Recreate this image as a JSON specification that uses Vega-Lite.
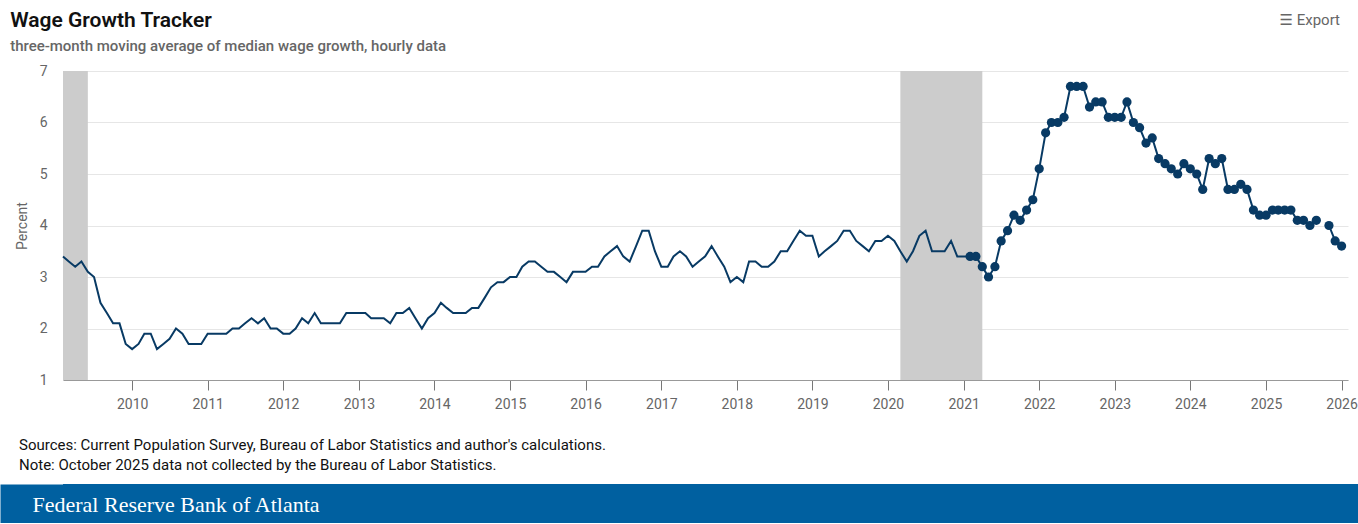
{
  "$schema": "https://vega.github.io/schema/vega-lite/v6.json",
  "background": "white",
  "padding": {"left": 10, "top": 10, "right": 0, "bottom": 0},
  "spacing": 27,
  "title": {
    "text": "Wage Growth Tracker",
    "subtitle": "three-month moving average of median wage growth, hourly data",
    "anchor": "start", "frame": "bounds", "orient": "top",
    "offset": -41, "dx": -5,
    "font": "Roboto", "fontSize": 21, "fontWeight": 600, "color": "#111111",
    "subtitleFont": "Roboto", "subtitleFontSize": 15, "subtitleFontWeight": 500,
    "subtitleColor": "#666666", "subtitlePadding": 8
  },
  "config": {"view": {"stroke": null}},
  "vconcat": [
    {
      "width": 1285,
      "height": 309,
      "title": {
        "text": "☰  Export", "anchor": "end", "frame": "group", "orient": "top",
        "offset": 36, "dx": -8, "font": "Roboto, DejaVu Sans", "fontSize": 15,
        "fontWeight": "normal", "color": "#666666"
      },
      "data": {
        "format": {"parse": {"date": "date"}},
        "values": [
          {"date": "2009-02-01", "wage": 3.4}, {"date": "2009-03-01", "wage": 3.3}, {"date": "2009-04-01", "wage": 3.2}, {"date": "2009-05-01", "wage": 3.3}, {"date": "2009-06-01", "wage": 3.1}, {"date": "2009-07-01", "wage": 3.0}, {"date": "2009-08-01", "wage": 2.5}, {"date": "2009-09-01", "wage": 2.3}, {"date": "2009-10-01", "wage": 2.1}, {"date": "2009-11-01", "wage": 2.1}, {"date": "2009-12-01", "wage": 1.7},
          {"date": "2010-01-01", "wage": 1.6}, {"date": "2010-02-01", "wage": 1.7}, {"date": "2010-03-01", "wage": 1.9}, {"date": "2010-04-01", "wage": 1.9}, {"date": "2010-05-01", "wage": 1.6}, {"date": "2010-06-01", "wage": 1.7}, {"date": "2010-07-01", "wage": 1.8}, {"date": "2010-08-01", "wage": 2.0}, {"date": "2010-09-01", "wage": 1.9}, {"date": "2010-10-01", "wage": 1.7}, {"date": "2010-11-01", "wage": 1.7}, {"date": "2010-12-01", "wage": 1.7},
          {"date": "2011-01-01", "wage": 1.9}, {"date": "2011-02-01", "wage": 1.9}, {"date": "2011-03-01", "wage": 1.9}, {"date": "2011-04-01", "wage": 1.9}, {"date": "2011-05-01", "wage": 2.0}, {"date": "2011-06-01", "wage": 2.0}, {"date": "2011-07-01", "wage": 2.1}, {"date": "2011-08-01", "wage": 2.2}, {"date": "2011-09-01", "wage": 2.1}, {"date": "2011-10-01", "wage": 2.2}, {"date": "2011-11-01", "wage": 2.0}, {"date": "2011-12-01", "wage": 2.0},
          {"date": "2012-01-01", "wage": 1.9}, {"date": "2012-02-01", "wage": 1.9}, {"date": "2012-03-01", "wage": 2.0}, {"date": "2012-04-01", "wage": 2.2}, {"date": "2012-05-01", "wage": 2.1}, {"date": "2012-06-01", "wage": 2.3}, {"date": "2012-07-01", "wage": 2.1}, {"date": "2012-08-01", "wage": 2.1}, {"date": "2012-09-01", "wage": 2.1}, {"date": "2012-10-01", "wage": 2.1}, {"date": "2012-11-01", "wage": 2.3}, {"date": "2012-12-01", "wage": 2.3},
          {"date": "2013-01-01", "wage": 2.3}, {"date": "2013-02-01", "wage": 2.3}, {"date": "2013-03-01", "wage": 2.2}, {"date": "2013-04-01", "wage": 2.2}, {"date": "2013-05-01", "wage": 2.2}, {"date": "2013-06-01", "wage": 2.1}, {"date": "2013-07-01", "wage": 2.3}, {"date": "2013-08-01", "wage": 2.3}, {"date": "2013-09-01", "wage": 2.4}, {"date": "2013-10-01", "wage": 2.2}, {"date": "2013-11-01", "wage": 2.0}, {"date": "2013-12-01", "wage": 2.2},
          {"date": "2014-01-01", "wage": 2.3}, {"date": "2014-02-01", "wage": 2.5}, {"date": "2014-03-01", "wage": 2.4}, {"date": "2014-04-01", "wage": 2.3}, {"date": "2014-05-01", "wage": 2.3}, {"date": "2014-06-01", "wage": 2.3}, {"date": "2014-07-01", "wage": 2.4}, {"date": "2014-08-01", "wage": 2.4}, {"date": "2014-09-01", "wage": 2.6}, {"date": "2014-10-01", "wage": 2.8}, {"date": "2014-11-01", "wage": 2.9}, {"date": "2014-12-01", "wage": 2.9},
          {"date": "2015-01-01", "wage": 3.0}, {"date": "2015-02-01", "wage": 3.0}, {"date": "2015-03-01", "wage": 3.2}, {"date": "2015-04-01", "wage": 3.3}, {"date": "2015-05-01", "wage": 3.3}, {"date": "2015-06-01", "wage": 3.2}, {"date": "2015-07-01", "wage": 3.1}, {"date": "2015-08-01", "wage": 3.1}, {"date": "2015-09-01", "wage": 3.0}, {"date": "2015-10-01", "wage": 2.9}, {"date": "2015-11-01", "wage": 3.1}, {"date": "2015-12-01", "wage": 3.1},
          {"date": "2016-01-01", "wage": 3.1}, {"date": "2016-02-01", "wage": 3.2}, {"date": "2016-03-01", "wage": 3.2}, {"date": "2016-04-01", "wage": 3.4}, {"date": "2016-05-01", "wage": 3.5}, {"date": "2016-06-01", "wage": 3.6}, {"date": "2016-07-01", "wage": 3.4}, {"date": "2016-08-01", "wage": 3.3}, {"date": "2016-09-01", "wage": 3.6}, {"date": "2016-10-01", "wage": 3.9}, {"date": "2016-11-01", "wage": 3.9}, {"date": "2016-12-01", "wage": 3.5},
          {"date": "2017-01-01", "wage": 3.2}, {"date": "2017-02-01", "wage": 3.2}, {"date": "2017-03-01", "wage": 3.4}, {"date": "2017-04-01", "wage": 3.5}, {"date": "2017-05-01", "wage": 3.4}, {"date": "2017-06-01", "wage": 3.2}, {"date": "2017-07-01", "wage": 3.3}, {"date": "2017-08-01", "wage": 3.4}, {"date": "2017-09-01", "wage": 3.6}, {"date": "2017-10-01", "wage": 3.4}, {"date": "2017-11-01", "wage": 3.2}, {"date": "2017-12-01", "wage": 2.9},
          {"date": "2018-01-01", "wage": 3.0}, {"date": "2018-02-01", "wage": 2.9}, {"date": "2018-03-01", "wage": 3.3}, {"date": "2018-04-01", "wage": 3.3}, {"date": "2018-05-01", "wage": 3.2}, {"date": "2018-06-01", "wage": 3.2}, {"date": "2018-07-01", "wage": 3.3}, {"date": "2018-08-01", "wage": 3.5}, {"date": "2018-09-01", "wage": 3.5}, {"date": "2018-10-01", "wage": 3.7}, {"date": "2018-11-01", "wage": 3.9}, {"date": "2018-12-01", "wage": 3.8},
          {"date": "2019-01-01", "wage": 3.8}, {"date": "2019-02-01", "wage": 3.4}, {"date": "2019-03-01", "wage": 3.5}, {"date": "2019-04-01", "wage": 3.6}, {"date": "2019-05-01", "wage": 3.7}, {"date": "2019-06-01", "wage": 3.9}, {"date": "2019-07-01", "wage": 3.9}, {"date": "2019-08-01", "wage": 3.7}, {"date": "2019-09-01", "wage": 3.6}, {"date": "2019-10-01", "wage": 3.5}, {"date": "2019-11-01", "wage": 3.7}, {"date": "2019-12-01", "wage": 3.7},
          {"date": "2020-01-01", "wage": 3.8}, {"date": "2020-02-01", "wage": 3.7}, {"date": "2020-03-01", "wage": 3.5}, {"date": "2020-04-01", "wage": 3.3}, {"date": "2020-05-01", "wage": 3.5}, {"date": "2020-06-01", "wage": 3.8}, {"date": "2020-07-01", "wage": 3.9}, {"date": "2020-08-01", "wage": 3.5}, {"date": "2020-09-01", "wage": 3.5}, {"date": "2020-10-01", "wage": 3.5}, {"date": "2020-11-01", "wage": 3.7}, {"date": "2020-12-01", "wage": 3.4},
          {"date": "2021-01-01", "wage": 3.4}, {"date": "2021-02-01", "wage": 3.4}, {"date": "2021-03-01", "wage": 3.4}, {"date": "2021-04-01", "wage": 3.2}, {"date": "2021-05-01", "wage": 3.0}, {"date": "2021-06-01", "wage": 3.2}, {"date": "2021-07-01", "wage": 3.7}, {"date": "2021-08-01", "wage": 3.9}, {"date": "2021-09-01", "wage": 4.2}, {"date": "2021-10-01", "wage": 4.1}, {"date": "2021-11-01", "wage": 4.3}, {"date": "2021-12-01", "wage": 4.5},
          {"date": "2022-01-01", "wage": 5.1}, {"date": "2022-02-01", "wage": 5.8}, {"date": "2022-03-01", "wage": 6.0}, {"date": "2022-04-01", "wage": 6.0}, {"date": "2022-05-01", "wage": 6.1}, {"date": "2022-06-01", "wage": 6.7}, {"date": "2022-07-01", "wage": 6.7}, {"date": "2022-08-01", "wage": 6.7}, {"date": "2022-09-01", "wage": 6.3}, {"date": "2022-10-01", "wage": 6.4}, {"date": "2022-11-01", "wage": 6.4}, {"date": "2022-12-01", "wage": 6.1},
          {"date": "2023-01-01", "wage": 6.1}, {"date": "2023-02-01", "wage": 6.1}, {"date": "2023-03-01", "wage": 6.4}, {"date": "2023-04-01", "wage": 6.0}, {"date": "2023-05-01", "wage": 5.9}, {"date": "2023-06-01", "wage": 5.6}, {"date": "2023-07-01", "wage": 5.7}, {"date": "2023-08-01", "wage": 5.3}, {"date": "2023-09-01", "wage": 5.2}, {"date": "2023-10-01", "wage": 5.1}, {"date": "2023-11-01", "wage": 5.0}, {"date": "2023-12-01", "wage": 5.2},
          {"date": "2024-01-01", "wage": 5.1}, {"date": "2024-02-01", "wage": 5.0}, {"date": "2024-03-01", "wage": 4.7}, {"date": "2024-04-01", "wage": 5.3}, {"date": "2024-05-01", "wage": 5.2}, {"date": "2024-06-01", "wage": 5.3}, {"date": "2024-07-01", "wage": 4.7}, {"date": "2024-08-01", "wage": 4.7}, {"date": "2024-09-01", "wage": 4.8}, {"date": "2024-10-01", "wage": 4.7}, {"date": "2024-11-01", "wage": 4.3}, {"date": "2024-12-01", "wage": 4.2},
          {"date": "2025-01-01", "wage": 4.2}, {"date": "2025-02-01", "wage": 4.3}, {"date": "2025-03-01", "wage": 4.3}, {"date": "2025-04-01", "wage": 4.3}, {"date": "2025-05-01", "wage": 4.3}, {"date": "2025-06-01", "wage": 4.1}, {"date": "2025-07-01", "wage": 4.1}, {"date": "2025-08-01", "wage": 4.0}, {"date": "2025-09-01", "wage": 4.1}, {"date": "2025-10-01", "wage": null}, {"date": "2025-11-01", "wage": 4.0}, {"date": "2025-12-01", "wage": 3.7},
          {"date": "2026-01-01", "wage": 3.6}
        ]
      },
      "layer": [
        {
          "data": {"values": [
            {"start": "2007-12-01", "end": "2009-06-01"},
            {"start": "2020-03-01", "end": "2021-04-01"}
          ]},
          "mark": {"type": "rect", "color": "#cccccc", "clip": true},
          "encoding": {
            "x": {
              "field": "start", "type": "temporal",
              "scale": {"type": "utc", "domain": [{"year": 2009, "month": 2, "date": 1, "utc": true}, {"year": 2026, "month": 2, "date": 1, "utc": true}]},
              "axis": {"title": null, "format": "%Y", "tickCount": {"interval": "year", "step": 1}, "grid": false, "domainColor": "#999999", "tickColor": "#777777", "tickSize": 10, "labelFontSize": 14, "labelColor": "#666666", "labelFont": "Roboto", "labelPadding": 7, "labelFlush": false}
            },
            "x2": {"field": "end"}
          }
        },
        {
          "mark": {"type": "line", "color": "#083a64", "strokeWidth": 2, "invalid": "break-paths-filter-domains"},
          "encoding": {
            "x": {
              "field": "date", "type": "temporal",
              "scale": {"type": "utc", "domain": [{"year": 2009, "month": 2, "date": 1, "utc": true}, {"year": 2026, "month": 2, "date": 1, "utc": true}]},
              "axis": {"title": null, "format": "%Y", "tickCount": {"interval": "year", "step": 1}, "grid": false, "domainColor": "#999999", "tickColor": "#777777", "tickSize": 10, "labelFontSize": 14, "labelColor": "#666666", "labelFont": "Roboto", "labelPadding": 7, "labelFlush": false}
            },
            "y": {
              "field": "wage", "type": "quantitative",
              "scale": {"domain": [1, 7], "nice": false, "zero": false},
              "axis": {"values": [1, 2, 3, 4, 5, 6, 7], "title": "Percent", "domain": false, "ticks": false, "labelPadding": 16, "labelFontSize": 14, "labelColor": "#666666", "labelFont": "Roboto", "gridColor": "#e6e6e6", "titleFontSize": 14, "titleColor": "#666666", "titleFontWeight": "normal", "titleFont": "Roboto", "titlePadding": 10}
            }
          }
        },
        {
          "transform": [{"filter": "datum.wage != null && datum.date >= utc(2021, 1, 1)"}],
          "mark": {"type": "circle", "color": "#083a64", "size": 85, "opacity": 1},
          "encoding": {
            "x": {"field": "date", "type": "temporal"},
            "y": {"field": "wage", "type": "quantitative"}
          }
        }
      ]
    },
    {
      "width": 1295,
      "height": 39,
      "view": {"fill": "#0060a0", "stroke": null},
      "title": {
        "text": ["Sources: Current Population Survey, Bureau of Labor Statistics and author's calculations.", "Note: October 2025 data not collected by the Bureau of Labor Statistics."],
        "anchor": "start", "frame": "bounds", "orient": "top", "offset": 11, "dx": -13,
        "font": "Roboto", "fontSize": 15, "fontWeight": "normal", "color": "#111111", "lineHeight": 20
      },
      "data": {"values": [{"org": "Federal Reserve Bank of Atlanta"}]},
      "mark": {"type": "point", "opacity": 0},
      "encoding": {
        "y": {
          "field": "org", "type": "nominal",
          "axis": {"labels": false, "ticks": false, "grid": false, "domain": true, "domainColor": "#0060a0", "domainWidth": 126, "title": "Federal Reserve Bank of Atlanta", "titleAngle": 0, "titleAlign": "left", "titleBaseline": "middle", "titleX": -31, "titleY": 20, "titleFont": "Liberation Serif", "titleFontSize": 22, "titleFontWeight": "normal", "titleColor": "#ffffff"}
        }
      }
    }
  ]
}
